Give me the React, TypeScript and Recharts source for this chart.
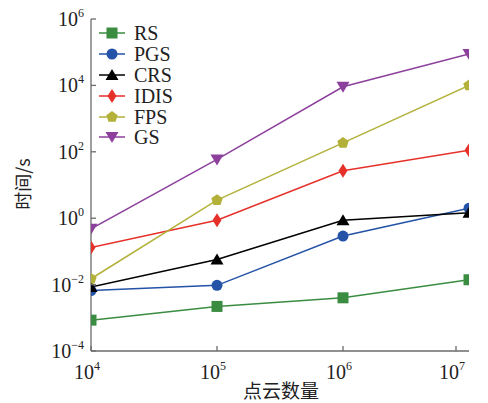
import React from 'react';
import { LineChart, Line, XAxis, YAxis } from 'recharts';

// point cloud sizes
const pointCounts = [1e4, 1e5, 1e6, 1e7];

// run time (s) per sampling method
const rs = [8.5e-4, 2.2e-3, 4e-3, 1.4e-2];
const pgs = [6.6e-3, 9.5e-3, 0.29, 2.0];
const crs = [8.5e-3, 0.057, 0.87, 1.45];
const idis = [0.13, 0.87, 27, 112];
const fps = [0.015, 3.5, 185, 1e4];
const gs = [0.48, 59, 9.1e3, 8.9e4];

const xTicks = [1e4, 1e5, 1e6, 1e7];
const yTicks = [1e-4, 1e-2, 1, 1e2, 1e4, 1e6];

const SERIES = [
  { key: 'RS', values: rs, color: '#3a8c41', shape: 'square' },
  { key: 'PGS', values: pgs, color: '#2352a6', shape: 'circle' },
  { key: 'CRS', values: crs, color: '#000000', shape: 'triangle' },
  { key: 'IDIS', values: idis, color: '#e5312a', shape: 'diamond' },
  { key: 'FPS', values: fps, color: '#b3b13a', shape: 'pentagon' },
  { key: 'GS', values: gs, color: '#8c409c', shape: 'triangleDown' },
];

const data = pointCounts.map((x, i) => {
  const row: Record<string, number> = { x };
  SERIES.forEach(s => { row[s.key] = s.values[i]; });
  return row;
});

const FONT = '"Liberation Serif", "Times New Roman", serif';
const CJK = '"Noto Sans CJK SC", sans-serif';
const AXIS = '#6b6b6b';

function Marker({ cx, cy, shape, color }: { cx: number; cy: number; shape: string; color: string }) {
  if (shape === 'square') return <rect x={cx - 5.5} y={cy - 5.5} width={11} height={11} fill={color} />;
  if (shape === 'circle') return <circle cx={cx} cy={cy} r={5.5} fill={color} />;
  if (shape === 'triangle')
    return <polygon points={`${cx},${cy - 6} ${cx + 6.5},${cy + 5} ${cx - 6.5},${cy + 5}`} fill={color} />;
  if (shape === 'triangleDown')
    return <polygon points={`${cx},${cy + 6} ${cx + 6.5},${cy - 5} ${cx - 6.5},${cy - 5}`} fill={color} />;
  if (shape === 'diamond')
    return <polygon points={`${cx},${cy - 7} ${cx + 4.5},${cy} ${cx},${cy + 7} ${cx - 4.5},${cy}`} fill={color} />;
  // pentagon
  const pts = [0, 1, 2, 3, 4].map(k => {
    const a = -Math.PI / 2 + (k * 2 * Math.PI) / 5;
    return `${cx + 6 * Math.cos(a)},${cy + 6 * Math.sin(a)}`;
  });
  return <polygon points={pts.join(' ')} fill={color} />;
}

function expLabel(v: number) {
  const e = Math.round(Math.log10(v));
  return e < 0 ? `\u2212${-e}` : `${e}`;
}

const YTick = ({ x, y, payload }: any) => (
  <g>
    <line x1={x} y1={y} x2={x + 5} y2={y} stroke={AXIS} strokeWidth={1.3} />
    <text x={x - 7} y={y + 7} textAnchor="end" fontFamily={FONT} fontSize={20} fill="#222">
      10<tspan dy={-9} fontSize={12}>{expLabel(payload.value)}</tspan>
    </text>
  </g>
);

const XTick = ({ x, y, payload }: any) => (
  <g>
    <line x1={x} y1={y} x2={x} y2={y - 5} stroke={AXIS} strokeWidth={1.3} />
    <text x={x - 4} y={y + 28} textAnchor="middle" fontFamily={FONT} fontSize={20} fill="#222">
      10<tspan dy={-9} fontSize={12}>{expLabel(payload.value)}</tspan>
    </text>
  </g>
);

const LegendBox = () => (
  <div style={{ position: 'absolute', left: 99, top: 23, fontFamily: FONT, fontSize: 20, color: '#222' }}>
    {SERIES.map(s => (
      <div key={s.key} style={{ display: 'flex', alignItems: 'center', height: 20.8 }}>
        <svg width={27} height={16} style={{ marginRight: 8 }}>
          <line x1={0} y1={8} x2={26} y2={8} stroke={s.color} strokeWidth={1.5} />
          <Marker cx={13} cy={8} shape={s.shape} color={s.color} />
        </svg>
        <span style={{ lineHeight: '20px' }}>{s.key}</span>
      </div>
    ))}
  </div>
);

export default function App() {
  return (
    <div style={{ position: 'fixed', left: 0, top: 0, width: 488, height: 403, background: '#fff' }}>
      <LineChart width={488} height={403} data={data} margin={{ top: 19, right: 19, bottom: 0, left: 0 }}>
        <XAxis
          dataKey="x"
          type="number"
          scale="log"
          domain={[1e4, 1e7]}
          ticks={xTicks}
          height={52}
          tickSize={0}
          tickMargin={0}
          tickLine={false}
          tick={<XTick />}
          stroke={AXIS}
          strokeWidth={1.3}
          allowDataOverflow
        />
        <YAxis
          type="number"
          scale="log"
          domain={[1e-4, 1e6]}
          ticks={yTicks}
          width={91}
          tickSize={0}
          tickMargin={0}
          tickLine={false}
          tick={<YTick />}
          stroke={AXIS}
          strokeWidth={1.3}
          allowDataOverflow
        />
        {SERIES.map(s => (
          <Line
            key={s.key}
            dataKey={s.key}
            stroke={s.color}
            strokeWidth={1.5}
            isAnimationActive={false}
            dot={(p: any) => <Marker key={`${s.key}-${p.index}`} cx={p.cx} cy={p.cy} shape={s.shape} color={s.color} />}
            activeDot={false}
          />
        ))}
      </LineChart>
      <LegendBox />
      <div
        style={{
          position: 'absolute', left: 22, top: 184, transform: 'translate(-50%, -50%) rotate(-90deg)',
          fontFamily: CJK, fontSize: 18, color: '#222', whiteSpace: 'nowrap',
        }}
      >
        时间/s
      </div>
      <div
        style={{
          position: 'absolute', left: 281, top: 390, transform: 'translate(-50%, -50%)',
          fontFamily: CJK, fontSize: 19, color: '#222', whiteSpace: 'nowrap', lineHeight: '20px',
        }}
      >
        点云数量
      </div>
    </div>
  );
}
